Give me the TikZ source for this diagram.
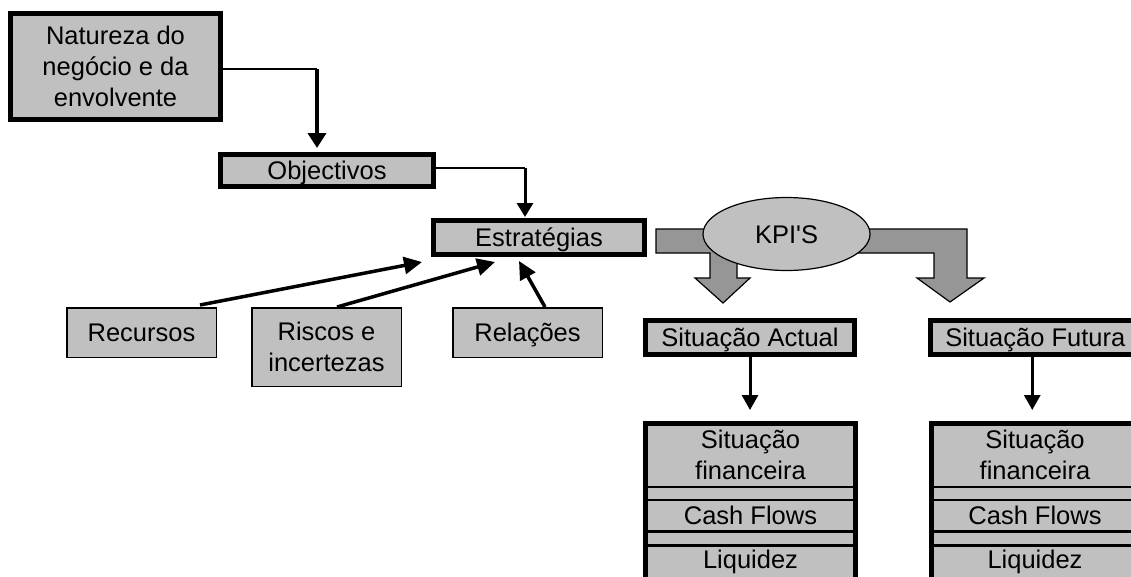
\documentclass[tikz,border=0pt]{standalone}
\usepackage{fontspec}
\setmainfont{Liberation Sans}
\usetikzlibrary{arrows.meta,calc,shapes.geometric}
\definecolor{boxgray}{HTML}{C0C0C0}
\definecolor{arrgray}{HTML}{969696}
\begin{document}
\begin{tikzpicture}[x=1pt,y=-1pt,
  every node/.style={font=\fontsize{25.5}{31}\selectfont, inner sep=0pt, align=center},
  thickbox/.style={draw, fill=boxgray, line width=5pt, rectangle},
  thinbox/.style={draw, fill=boxgray, line width=1.5pt, rectangle},
  captext/.style={text height=18.3pt, text depth=0pt},
  kpibox/.style={ellipse, draw, fill=boxgray, line width=1.2pt},
  blockarr/.style={draw, fill=arrgray, line width=1.2pt, line join=miter},
  sepline/.style={line width=2.5pt},
  arrD/.style={line width=3.5pt, -{Triangle[length=18pt,width=17pt]}},
  arrV/.style={line width=4pt, -{Triangle[length=15pt,width=18pt]}},
  arrO/.style={line width=3pt, -{Triangle[length=14pt,width=16pt]}},
  arrS/.style={line width=3pt, -{Triangle[length=15pt,width=16pt]}}
]
\useasboundingbox (0,0) rectangle (1131,576);
\clip (0,0) rectangle (1131,576);

% block arrows (drawn below the ellipse)
\draw[blockarr] (656,229) -- (737,229) -- (737,278) -- (750,278) -- (723,303) -- (695,278) -- (710,278) -- (710,253) -- (656,253) -- cycle;
\draw[blockarr] (840,229) -- (967,229) -- (967,278) -- (984,278) -- (950,302) -- (917,278) -- (934,278) -- (934,253) -- (840,253) -- cycle;

% boxes
\node[thickbox, minimum width=210, minimum height=106] (nat) at (115.5,66.5) {Natureza do\\negócio e da\\envolvente};
\node[thickbox, captext, minimum width=213, minimum height=32] (obj) at (327,170.5) {Objectivos};
\node[thickbox, captext, minimum width=211, minimum height=34] (est) at (539,237.5) {Estratégias};
\node[thinbox, captext, minimum width=149.5, minimum height=49.5] (rec) at (141.5,332.5) {Recursos};
\node[thinbox, minimum width=149.5, minimum height=78.5] (ris) at (326.5,347) {Riscos e\\incertezas};
\node[thinbox, captext, minimum width=149.5, minimum height=49.5] (rel) at (527.5,332.5) {Relações};
\node[kpibox, captext, minimum width=167, minimum height=73] (kpi) at (786.5,234) {KPI\textquotesingle S};
\node[thickbox, captext, minimum width=209, minimum height=34] (sa) at (750,337.5) {Situação Actual};
\node[thickbox, captext, minimum width=209.5, minimum height=34] (sf) at (1035.25,337.5) {Situação Futura};

% stacks
\node[thickbox, minimum width=210, minimum height=180] (stA) at (750.5,513.5) {};
\node[thickbox, minimum width=207, minimum height=180] (stB) at (1035,513.5) {};
\foreach \yy in {487,500,531.5,545.5}{
  \draw[sepline] (stA.west |- 0,\yy) -- (stA.east |- 0,\yy);
  \draw[sepline] (stB.west |- 0,\yy) -- (stB.east |- 0,\yy);
}
\node (aFin) at (750.5,455.2) {Situação\\financeira};
\node[anchor=base] (aCash) at (750.5,524) {Cash Flows};
\node[anchor=base] (aLiq) at (750.5,568) {Liquidez};
\node (bFin) at (1035,455.2) {Situação\\financeira};
\node[anchor=base] (bCash) at (1035,524) {Cash Flows};
\node[anchor=base] (bLiq) at (1035,568) {Liquidez};

% connectors
\coordinate (c1) at (317,69);
\draw[line width=2pt] (nat.east |- c1) -- (c1);
\draw[arrV] (c1) -- ($(obj.north)+(-10,-4)$);
\coordinate (c2) at (525,168);
\draw[line width=1.5pt] (obj.east |- c2) -- (c2);
\draw[arrO] (c2) -- ($(est.north)+(-14,-1)$);

\draw[arrD] ($(rec.north)+(58.5,-2)$) -- ($(est.south)+(-117,5)$);
\draw[arrD] ($(ris.north)+(10.5,0)$) -- ($(est.south)+(-44,5)$);
\draw[arrD] ($(rel.north)+(17.5,0)$) -- ($(est.south)+(-20,4)$);

\draw[arrS] (sa.south) -- ($(sa.south |- stA.north)+(0,-11)$);
\draw[arrS] ($(sf.south)+(-3,0)$) -- ($(sf.south |- stB.north)+(-3,-11)$);
\end{tikzpicture}
\end{document}
